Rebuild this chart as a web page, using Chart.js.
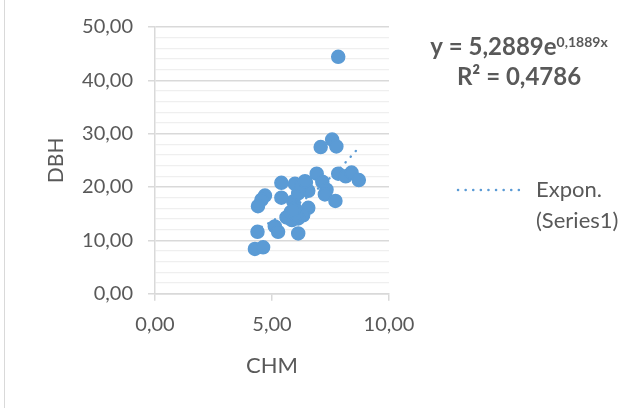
<!DOCTYPE html>
<html>
<head>
<meta charset="utf-8">
<script src="https://cdn.jsdelivr.net/npm/chart.js@4.4.1/dist/chart.umd.min.js"></script>
<style>
  html, body { margin: 0; padding: 0; background: #ffffff; }
  #wrap { position: relative; width: 643px; height: 408px; }
</style>
</head>
<body>
<div id="wrap"><canvas id="chart" width="643" height="408"></canvas></div>
<script>
// Canopy height (CHM) against stem diameter (DBH)
const chmValues = [7.83, 7.57, 7.08, 7.75, 7.83, 8.15, 8.40, 8.71, 6.91, 7.15,
                   7.33, 7.26, 7.71, 6.45, 6.55, 6.55, 6.33, 6.12, 6.12, 5.91,
                   5.98, 5.62, 5.85, 6.12, 5.98, 5.40, 5.40, 4.70, 4.55, 4.40,
                   4.38, 5.12, 5.26, 4.27, 4.62, 6.25, 5.80, 6.00, 5.91, 6.41];
const dbhValues = [44.4, 28.9, 27.5, 27.6, 22.5, 22.0, 22.7, 21.3, 22.5, 21.0,
                   19.5, 18.6, 17.4, 20.9, 19.3, 16.1, 14.7, 11.3, 14.1, 17.3,
                   16.0, 14.3, 13.8, 18.8, 20.6, 20.8, 18.0, 18.4, 17.6, 16.4,
                   11.6, 12.6, 11.6, 8.4, 8.7, 20.3, 15.3, 14.8, 15.6, 21.1];

// Exponential trend fitted to the series
const trendA = 5.2889;
const trendB = 0.1889;
const trendR2 = 0.4786;
const trendLabel = ['Expon.', '(Series1)'];

// Axis tick labels and titles
const xTickLabels = ['0,00', '5,00', '10,00'];
const yTickLabels = ['0,00', '10,00', '20,00', '30,00', '40,00', '50,00'];
const xTitle = 'CHM';
const yTitle = 'DBH';

const points = chmValues.map((x, i) => ({ x: x, y: dbhValues[i] }));

const xMin = Math.min(...chmValues);
const xMax = Math.max(...chmValues);
const trendPoints = [];
for (let i = 0; i <= 40; i++) {
  const x = xMin + (xMax - xMin) * i / 40;
  trendPoints.push({ x: x, y: trendA * Math.exp(trendB * x) });
}

const blue = '#5B9BD5';
const textGrey = '#595959';
const majorGrid = '#d9d9d9';
const minorGrid = '#efefef';
const fontFamily = 'Lato, "Open Sans", sans-serif';

const fmt = v => v.toFixed(4).replace('.', ',');

// Axis titles, equation, R² and the trend legend
const sidePanel = {
  id: 'sidePanel',
  afterDraw(chart) {
    const ctx = chart.ctx;
    const area = chart.chartArea;
    ctx.save();
    // outer frame edge
    ctx.strokeStyle = '#d9d9d9';
    ctx.lineWidth = 1;
    ctx.beginPath();
    ctx.moveTo(4.5, 0);
    ctx.lineTo(4.5, 408);
    ctx.stroke();

    ctx.fillStyle = textGrey;
    ctx.textBaseline = 'alphabetic';

    // axis titles
    ctx.font = '22px ' + fontFamily;
    ctx.textAlign = 'center';
    ctx.fillText(xTitle, (area.left + area.right) / 2, 373);
    ctx.save();
    ctx.translate(63, (area.top + area.bottom) / 2);
    ctx.rotate(-Math.PI / 2);
    ctx.font = '21px ' + fontFamily;
    ctx.fillText(yTitle, 0, 0);
    ctx.restore();

    // trend equation
    const cx = 519;
    const mainFont = 'bold 24px ' + fontFamily;
    const supFont = 'bold 14px ' + fontFamily;
    const base = 'y = ' + fmt(trendA) + 'e';
    const sup = fmt(trendB) + 'x';
    ctx.font = mainFont;
    const w1 = ctx.measureText(base).width;
    ctx.font = supFont;
    const w2 = ctx.measureText(sup).width;
    const x0 = cx - (w1 + w2) / 2;
    ctx.font = mainFont;
    ctx.textAlign = 'left';
    ctx.fillText(base, x0, 55);
    ctx.font = supFont;
    ctx.fillText(sup, x0 + w1, 47);
    ctx.font = mainFont;
    ctx.textAlign = 'center';
    ctx.fillText('R² = ' + fmt(trendR2), cx, 85);

    // legend entry
    const ds = chart.data.datasets[1];
    ctx.strokeStyle = ds.borderColor;
    ctx.lineWidth = ds.borderWidth;
    ctx.lineCap = 'round';
    ctx.setLineDash(ds.borderDash);
    ctx.beginPath();
    ctx.moveTo(458, 190);
    ctx.lineTo(523, 190);
    ctx.stroke();
    ctx.setLineDash([]);
    ctx.font = '22px ' + fontFamily;
    ctx.textAlign = 'left';
    ctx.fillText(trendLabel[0], 536, 197);
    ctx.fillText(trendLabel[1], 536, 228);
    ctx.restore();
  }
};

new Chart(document.getElementById('chart'), {
  type: 'scatter',
  data: {
    datasets: [
      {
        label: 'Series1',
        data: points,
        backgroundColor: blue,
        borderColor: blue,
        pointRadius: 6.5,
        pointBorderWidth: 1.5,
        pointHoverRadius: 6.5
      },
      {
        label: trendLabel.join(' '),
        data: trendPoints,
        showLine: true,
        borderColor: blue,
        borderWidth: 2.5,
        borderDash: [0.1, 7.5],
        borderCapStyle: 'round',
        pointRadius: 0,
        fill: false
      }
    ]
  },
  options: {
    responsive: false,
    animation: false,
    events: [],
    layout: { padding: { left: 0, top: 26, right: 254, bottom: 0 } },
    plugins: {
      legend: { display: false },
      tooltip: { enabled: false }
    },
    scales: {
      x: {
        type: 'linear',
        min: 0,
        max: 10,
        afterFit(scale) { scale.height = 114.3; },
        ticks: {
          stepSize: 5,
          autoSkip: false,
          maxRotation: 0,
          padding: 12,
          color: textGrey,
          font: { family: fontFamily, size: 20 },
          callback: v => xTickLabels[Math.round(v / 5)] ?? ''
        },
        grid: {
          drawOnChartArea: false,
          drawTicks: true,
          tickLength: 7,
          tickColor: majorGrid,
          lineWidth: 1.5
        },
        border: { display: true, color: majorGrid, width: 1.5 }
      },
      y: {
        type: 'linear',
        min: 0,
        max: 50,
        afterFit(scale) { scale.width = 155; },
        ticks: {
          stepSize: 2,
          autoSkip: false,
          padding: 15,
          color: textGrey,
          font: { family: fontFamily, size: 20 },
          callback: v => (v % 10 === 0 ? yTickLabels[v / 10] : '')
        },
        grid: {
          drawTicks: true,
          tickLength: 7,
          color: c => (c.tick && c.tick.value % 10 === 0 ? majorGrid : minorGrid),
          tickColor: c => (c.tick && c.tick.value % 10 === 0 ? majorGrid : 'rgba(0,0,0,0)'),
          lineWidth: c => (c.tick && c.tick.value % 10 === 0 ? 1.5 : 1.2)
        },
        border: { display: true, color: majorGrid, width: 1.5 }
      }
    }
  },
  plugins: [sidePanel]
});
</script>
</body>
</html>
